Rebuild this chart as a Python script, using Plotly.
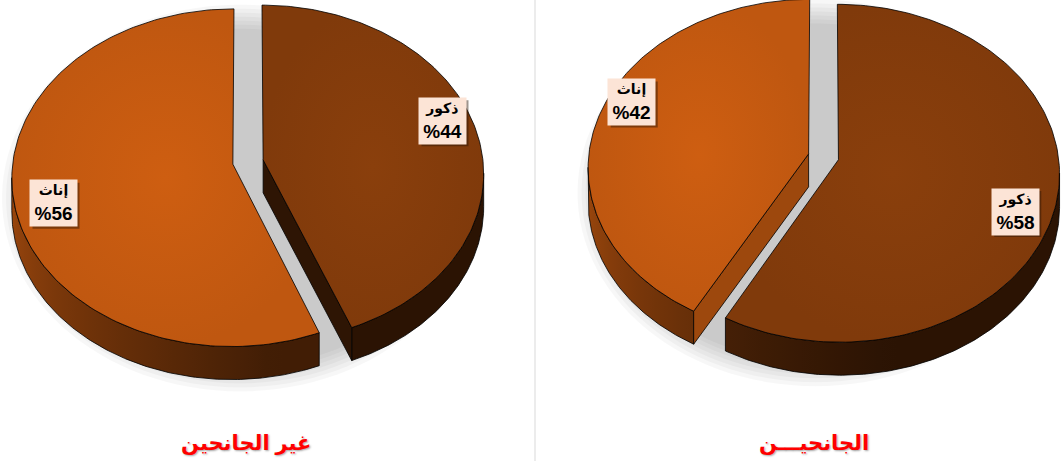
import numpy as np
import plotly.graph_objects as go

# ---------------- data ----------------
groups = ["غير الجانحين", "الجانحيـــن"]
categories = ["ذكور", "إناث"]
male_pct = [44, 58]
female_pct = [56, 42]

# ---------------- styles / layout constants ----------------
W, H = 1062, 461
face_colors = [(132, 60, 12), (197, 90, 17)]     # male, female
pie_centers = [(248, 162), (823.5, 156.8)]
RX, RY, K, DEPTH, PULL = 220.0, 167.4, 0.08, 33.0, 0.07
LAB_RX, LAB_RY = 0.83, 1.5
BOX_W, BOX_H = 47, 46
TITLE_Y = 443
FONT = "Arial, 'Liberation Sans', 'DejaVu Sans', sans-serif"


def rgb(c, f=1.0):
    return "rgb(%d,%d,%d)" % tuple(int(max(0, min(255, v * f))) for v in c)


def proj(cx, cy, sx, sz):
    d = 1 + K * sz
    return cx + RX * sx / d, cy - RY * sz / d


def wall_factor(th):
    return 0.33 + 0.5 * np.clip((th - 170) / 100.0, 0, 1)


fig = go.Figure()
annotations = []
shapes = [dict(type="line", xref="x", yref="y", x0=535, x1=535, y0=0, y1=H,
               line=dict(color="#D9D9D9", width=1), layer="below")]

for gi, (cx, cy) in enumerate(pie_centers):
    vals = [male_pct[gi], female_pct[gi]]
    total = float(sum(vals))

    # soft shadow (below / left of the pie)
    t = np.linspace(0, 2 * np.pi, 120)
    for i in range(7):
        rx = RX - 6 + i * 4
        ry = RY + 2 + i * 4
        fig.add_trace(go.Scatter(
            x=cx - 8 + rx * np.sin(t), y=cy + 36 + ry * np.cos(t),
            fill="toself", mode="none", fillcolor="rgba(0,0,0,0.03)",
            hoverinfo="skip", showlegend=False))

    slices = []
    start = 0.0
    for si, v in enumerate(vals):
        span = 360.0 * v / total
        t0, t1 = start, start + span
        tm = (t0 + t1) / 2
        start = t1
        ox, oz = PULL * np.sin(np.radians(tm)), PULL * np.cos(np.radians(tm))
        slices.append((si, v, t0, t1, tm, ox, oz))

    faces, walls, radials = [], [], []
    for (si, v, t0, t1, tm, ox, oz) in slices:
        base = face_colors[si]
        th = np.linspace(t0, t1, 160)
        rs = np.radians(th)
        px, py = proj(cx, cy, ox + np.sin(rs), oz + np.cos(rs))
        ax_, ay_ = proj(cx, cy, ox, oz)
        faces.append((np.r_[ax_, px, ax_], np.r_[ay_, py, ay_], base))

        # outer wall (front half only)
        lo = np.degrees(np.arccos(-K))
        a, b = max(t0, lo), min(t1, 360 - lo)
        if b > a:
            tw = np.linspace(a, b, 160)
            rw = np.radians(tw)
            wx, wy = proj(cx, cy, ox + np.sin(rw), oz + np.cos(rw))
            xs = np.r_[wx, wx[::-1], wx[0]]
            ys = np.r_[wy, wy[::-1] + DEPTH, wy[0]]
            xmin, xmax = wx.min(), wx.max()
            samp = np.linspace(a, b, 25)
            sx_, _ = proj(cx, cy, ox + np.sin(np.radians(samp)), oz + np.cos(np.radians(samp)))
            pos = (sx_ - xmin) / (xmax - xmin)
            order = np.argsort(pos)
            cs = [[float(np.clip(pos[j], 0, 1)), rgb(base, wall_factor(samp[j]))] for j in order]
            cs[0][0] = 0.0
            cs[-1][0] = 1.0
            walls.append((xs, ys, cs, xmin, xmax))

        # radial walls
        mx, my = proj(cx, cy, ox + np.sin(np.radians(tm)), oz + np.cos(np.radians(tm)))
        for te in (t0, t1):
            bx, by = proj(cx, cy, ox + np.sin(np.radians(te)), oz + np.cos(np.radians(te)))
            ex, ey = bx - ax_, by - ay_
            nx, ny = -ey, ex
            if nx * (mx - ax_) + ny * (my - ay_) > 0:
                nx, ny = -nx, -ny
            if ny > 0.01 * np.hypot(nx, ny):
                f = 0.8 if nx > 0 else 0.35
                radials.append(([ax_, bx, bx, ax_, ax_],
                                [ay_, by, by + DEPTH, ay_ + DEPTH, ay_], rgb(base, f)))

        # label
        lx = cx + RX * (ox + LAB_RX * np.sin(np.radians(tm)))
        ly = cy - RY * (oz + LAB_RX * LAB_RY * np.cos(np.radians(tm)))
        txt = ("<b><span style='font-size:14px'>%s</span></b><br><b>%%%d</b>"
               % (categories[si], v))
        shapes.append(dict(type="rect", xref="x", yref="y", layer="above",
                           x0=lx - BOX_W / 2 + 2.5, x1=lx + BOX_W / 2 + 2.5,
                           y0=ly - BOX_H / 2 + 2.5, y1=ly + BOX_H / 2 + 2.5,
                           fillcolor="rgba(40,20,5,0.45)", line=dict(width=0)))
        annotations.append(dict(x=lx, y=ly, xref="x", yref="y", text=txt, showarrow=False,
                                font=dict(family=FONT, size=19, color="black"),
                                width=BOX_W, height=BOX_H, borderpad=0,
                                bgcolor="#FCE4D6", align="center", valign="middle"))

    for (xs, ys, cs, xmin, xmax) in walls:
        fig.add_trace(go.Scatter(
            x=xs, y=ys, fill="toself", mode="lines",
            line=dict(color="black", width=0.8),
            fillgradient=dict(type="horizontal", colorscale=cs, start=xmin, stop=xmax),
            hoverinfo="skip", showlegend=False))
    for (xs, ys, c) in radials:
        fig.add_trace(go.Scatter(
            x=xs, y=ys, fill="toself", mode="lines", fillcolor=c,
            line=dict(color="black", width=0.8), hoverinfo="skip", showlegend=False))
    for (xs, ys, base) in faces:
        fig.add_trace(go.Scatter(
            x=xs, y=ys, fill="toself", mode="lines",
            fillgradient=dict(type="radial",
                              colorscale=[[0, rgb(base, 1.05)], [1, rgb(base, 0.97)]]),
            line=dict(color="black", width=0.8), hoverinfo="skip", showlegend=False))

    annotations.append(dict(x=cx - 2 - 8 * gi, y=TITLE_Y, xref="x", yref="y",
                            text="<b>%s</b>" % groups[gi], showarrow=False,
                            font=dict(family=FONT, size=21, color="#FF0000",
                                      shadow="1px 1px 2px rgba(0,0,0,0.35)")))

fig.update_layout(
    width=W, height=H, margin=dict(l=0, r=0, t=0, b=0),
    paper_bgcolor="white", plot_bgcolor="white",
    xaxis=dict(range=[0, W], visible=False, fixedrange=True),
    yaxis=dict(range=[H, 0], visible=False, fixedrange=True),
    annotations=annotations,
    shapes=shapes,
    showlegend=False,
)

fig.write_html("out.html")
